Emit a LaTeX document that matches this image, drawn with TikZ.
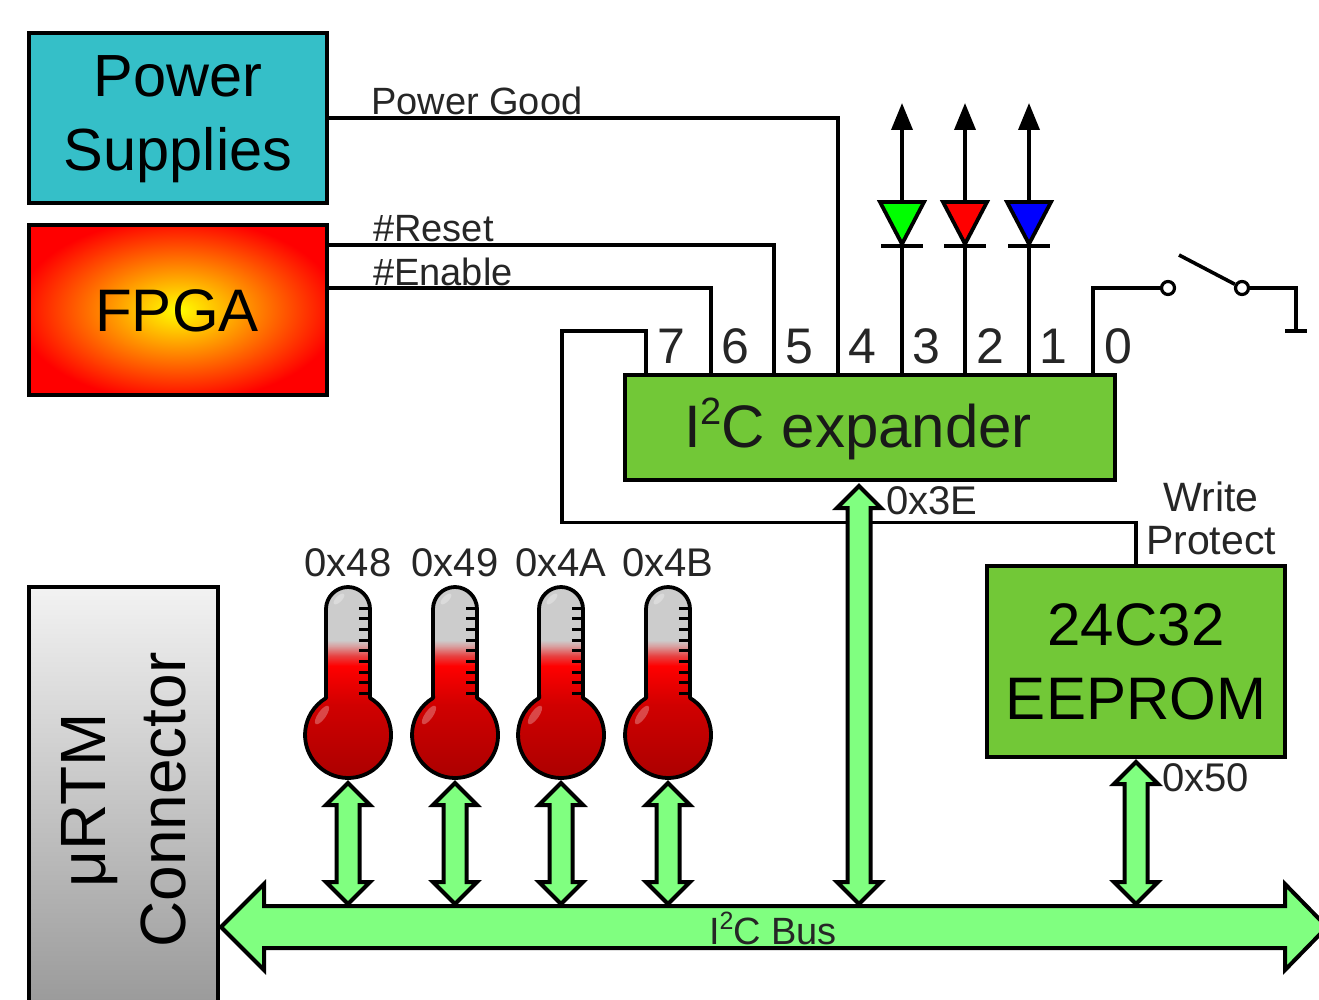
\documentclass[tikz,border=0pt]{standalone}
\usepackage{fontspec}
\setmainfont{Liberation Sans}
\usetikzlibrary{arrows.meta,calc}
\definecolor{psu}{HTML}{35BFC8}
\definecolor{chip}{HTML}{72C837}
\definecolor{busgreen}{HTML}{80FF80}
\definecolor{bulbdark}{HTML}{A80000}
\definecolor{bulbmid}{HTML}{D00000}
\definecolor{stemgrey}{HTML}{CCCCCC}
\definecolor{stempink}{HTML}{D8A0A0}
\definecolor{stemrose}{HTML}{E84040}
\pgfdeclareradialshading{fpgashade}{\pgfpoint{0bp}{0bp}}{color(0bp)=(yellow); color(27bp)=(red); color(50bp)=(red)}
\pgfdeclareverticalshading{thermoshade}{100bp}{color(0bp)=(bulbdark); color(25bp)=(bulbdark); color(45bp)=(bulbmid); color(55bp)=(red); color(57.5bp)=(stemrose); color(60bp)=(stempink); color(61.5bp)=(stemgrey); color(100bp)=(stemgrey)}
\newcommand{\supnum}[2]{\raisebox{#1}{\fontsize{#2}{#2}\selectfont 2}}
% vertical fat double arrow between two named points: from, to, shaft half width, head half width, head length
\newcommand{\vfat}[5]{\draw[fat] let \p1=(#1),\p2=(#2) in
  (\x1,\y1) -- (\x1+#4pt,\y1-#5pt) -- (\x1+#3pt,\y1-#5pt) -- (\x1+#3pt,\y2+#5pt) -- (\x1+#4pt,\y2+#5pt) --
  (\x2,\y2) -- (\x1-#4pt,\y2+#5pt) -- (\x1-#3pt,\y2+#5pt) -- (\x1-#3pt,\y1-#5pt) -- (\x1-#4pt,\y1-#5pt) -- cycle;}
\tikzset{
  x=1pt,y=-1pt,
  wire/.style={line width=3.6pt,line cap=butt,line join=miter},
  box/.style={draw=black,line width=4.4pt,inner sep=0pt,outer sep=0pt,align=center,font=\fontsize{60}{74}\selectfont},
  fat/.style={draw=black,fill=busgreen,line width=4pt,line join=miter,miter limit=6},
  small/.style={font=\fontsize{38}{43}\selectfont,inner sep=0pt,text=black!85},
  addr/.style={font=\fontsize{40}{43}\selectfont,inner sep=0pt,text=black!85},
  pinlabel/.style={font=\fontsize{50}{50}\selectfont,inner sep=0pt,anchor=base,text=black!85},
  thermo/.pic={
    \shade[shading=thermoshade] (-22,-126) .. controls (-22,-138) and (-12,-148) .. (0,-148)
      .. controls (12,-148) and (22,-138) .. (22,-126) -- (22,-37)
      arc[start angle=-59.3,end angle=239.3,radius=43] -- cycle;
    \fill[white,opacity=.3,rotate around={-45:(-9,-136)}] (-9,-136) ellipse (3 and 7);
    \fill[white,opacity=.28,rotate around={-35:(-26,-20)}] (-26,-20) ellipse (4 and 11);
    \draw[line width=3.8pt,line join=round] (-22,-126) .. controls (-22,-138) and (-12,-148) .. (0,-148)
      .. controls (12,-148) and (22,-138) .. (22,-126) -- (22,-37)
      arc[start angle=-59.3,end angle=239.3,radius=43] -- cycle;
    \foreach \t in {0,...,8} \draw[line width=3pt] (11,-127+10.7*\t) -- (22,-127+10.7*\t);
  },
  ledsym/.pic={
    \draw[line width=3.8pt,line join=miter,fill=\pgfkeysvalueof{/tikz/ledcolor}] (-22,-44) -- (22,-44) -- (0,-2) -- cycle;
    \draw[line width=3.6pt] (-21,0) -- (21,0);
  },
  ledcolor/.initial=red,
}
\begin{document}
\begin{tikzpicture}
\useasboundingbox (0,0) rectangle (1319,1000);
\fill[white] (0,0) rectangle (1319,1000);
\clip (0,0) rectangle (1319,1000);

% blocks
\node[box,fill=psu,minimum width=298pt,minimum height=170pt] (power) at (178,118) {};
\node[font=\fontsize{59.5}{74}\selectfont,align=center,inner sep=0pt] (powertext) at (178,119.5) {Power\\Supplies};
\node[box,shading=fpgashade,minimum width=298pt,minimum height=170pt] (fpga) at (178,310) {};
\node[font=\fontsize{60}{60}\selectfont,inner sep=0pt,anchor=base] (fpgatext) at (177,331) {FPGA};
\node[box,top color=black!5,bottom color=black!40,minimum width=189pt,minimum height=423pt] (urtm) at (123.5,798.5) {};
\node[font=\fontsize{64}{80}\selectfont,rotate=90,align=center,inner sep=0pt,text=black] (urtmtext) at (124,800) {μRTM\\Connector};
\node[box,fill=chip,minimum width=490pt,minimum height=105pt] (expander) at (870,427.5) {};
\node[font=\fontsize{60}{60}\selectfont,inner sep=0pt,anchor=base,text=black!90] (exptext) at (858,447) {I\supnum{.38em}{38}C expander};
\node[box,fill=chip,minimum width=298pt,minimum height=191pt] (eeprom) at (1136,661.5) {};
\node[font=\fontsize{60}{74}\selectfont,align=center,inner sep=0pt] (eepromtext) at (1136,662) {24C32\\EEPROM};

% pin coordinates
\foreach \n/\x in {7/646,6/711,5/774,4/838,3/902,2/965,1/1029,0/1093}
  \coordinate (pin\n) at (\x,375);
\coordinate (fb1) at (562,331);
\coordinate (fb2) at (562,522.5);
\coordinate (sw0) at (1093,288);
\coordinate (swc) at (1296,331);

% signal wires
\draw[wire] (power.east |- 0,118) -- (pin4 |- 0,118) -- (pin4);
\draw[wire] (fpga.east |- 0,245) -- (pin5 |- 0,245) -- (pin5);
\draw[wire] (fpga.east |- 0,288) -- (pin6 |- 0,288) -- (pin6);
\draw[wire] (pin7) -- (pin7 |- fb1) -- (fb1) -- (fb2) -- (eeprom.north |- fb2) -- (eeprom.north);

% LEDs
\foreach \n/\c in {3/green,2/red,1/blue}{
  \coordinate (ledtop\n) at (pin\n |- 0,103);
  \draw[wire,-{Triangle[length=27pt,width=21pt]}] (pin\n) -- (ledtop\n);
  \pic[ledcolor=\c] at (pin\n |- 0,246) {ledsym};
}

% switch
\node[circle,draw,line width=3.2pt,fill=white,minimum size=13pt,inner sep=0pt] (swa) at (1168,288) {};
\node[circle,draw,line width=3.2pt,fill=white,minimum size=13pt,inner sep=0pt] (swb) at (1242,288) {};
\coordinate (lever) at (1179,255);
\draw[wire] (pin0) -- (sw0) -- (swa);
\draw[wire] (lever) -- (swb);
\draw[wire] (swb) -- (swc |- swb) -- (swc);
\draw[wire] ($(swc)+(-11,0)$) -- ($(swc)+(11,0)$);

% pin labels
\foreach \n/\x in {7/671,6/735,5/799,4/862,3/926,2/990,1/1053,0/1118}
  \node[pinlabel] (lab\n) at (\x,363) {\n};

% thermometers
\foreach \i/\x/\t in {1/348/0x48,2/455/0x49,3/561/0x4A,4/668/0x4B}{
  \pic (th\i) at (\x,735) {thermo};
  \node[addr,anchor=base] (addr\i) at (\x,576) {\t};
  \coordinate (busa\i) at (\x,904);
  \coordinate (ta\i) at (\x,783);
  \vfat{ta\i}{busa\i}{11.5}{22}{22}
}

% bus
\coordinate (busr) at (1327,927);
\coordinate (busl) at (221,927);
\draw[fat] (busl) -- (264,884) -- (264,906) -- (1285,906) -- (1285,884) -- (busr) -- (1285,970) -- (1285,948) -- (264,948) -- (264,970) -- cycle;
\node[small,anchor=base,text=black!85] (buslabel) at (773,944) {I\supnum{.38em}{25}C Bus};

% expander and EEPROM bus arrows
\coordinate (xa) at (859,486);
\coordinate (xb) at (859,904);
\vfat{xa}{xb}{11.5}{22}{22}
\coordinate (ea) at (1136,762);
\coordinate (eb) at (1136,904);
\vfat{ea}{eb}{11.5}{22}{22}

% labels
\node[small,anchor=base west] (lpg) at (371,115) {Power Good};
\node[small,anchor=base west] (lrs) at (373,242) {\#Reset};
\node[small,anchor=base west] (len) at (373,285) {\#Enable};
\node[addr,anchor=base west] (l3e) at (886,514) {0x3E};
\node[addr,font=\fontsize{41}{43}\selectfont,anchor=base] (lw1) at (1211,511) {Write};
\node[addr,font=\fontsize{41}{43}\selectfont,anchor=base] (lw2) at (1211,554) {Protect};
\node[addr,anchor=base west] (l50) at (1162,791) {0x50};
\end{tikzpicture}
\end{document}
